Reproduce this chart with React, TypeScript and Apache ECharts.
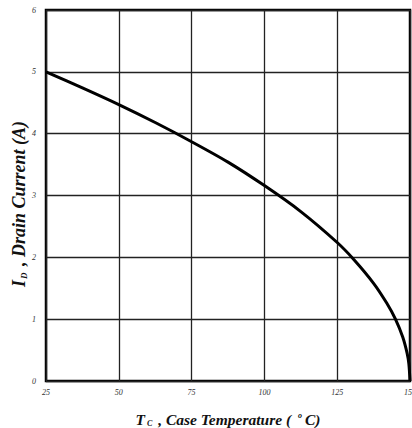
import React, { useEffect, useRef } from "react";
import * as echarts from "echarts";

const temperatures = [25, 37.5, 50, 62.5, 75, 87.5, 100, 112.5, 125, 131, 137.5, 142, 145, 147.5, 149, 149.6, 150];
const currents = [5, 4.74, 4.47, 4.18, 3.87, 3.54, 3.16, 2.74, 2.24, 1.95, 1.58, 1.26, 1.0, 0.71, 0.45, 0.28, 0];
const xTicks = [25, 50, 75, 100, 125, 150];
const yTicks = [0, 1, 2, 3, 4, 5, 6];

const FONT = "'Liberation Serif', 'DejaVu Serif', serif";

export default function App() {
  const ref = useRef<HTMLDivElement>(null);
  useEffect(() => {
    if (!ref.current) return;
    const chart = echarts.init(ref.current, undefined, { renderer: "svg" });
    chart.setOption({
      animation: false,
      backgroundColor: "#ffffff",
      grid: {
        left: 46, top: 10, right: 2, bottom: 47,
        show: true, borderColor: "#000", borderWidth: 2.5,
        outerBoundsMode: "none", containLabel: false,
      },
      graphic: [
        {
          type: "text",
          x: 19,
          y: 204,
          rotation: Math.PI / 2,
          style: {
            text: "{b|I}{sub|D}{b| , Drain Current (A)}",
            align: "center",
            verticalAlign: "middle",
            rich: {
              b: { fontFamily: FONT, fontStyle: "italic", fontWeight: "bold", fontSize: 18, fill: "#111" },
              sub: { fontFamily: FONT, fontStyle: "italic", fontWeight: "bold", fontSize: 9, fill: "#111", padding: [9, 2, 0, 1] },
            },
          },
        },
      ],
      xAxis: {
        type: "value",
        min: xTicks[0],
        max: xTicks[xTicks.length - 1],
        interval: 25,
        axisLine: { show: false },
        axisTick: { show: false },
        splitLine: { show: true, lineStyle: { color: "#222", width: 1.3 } },
        axisLabel: { fontFamily: FONT, fontStyle: "italic", fontSize: 8, color: "#333", margin: 7 },
        name: "{b|T}{sub| C}{b| , Case Temperature ( }{sup|o}{b|C)}",
        nameLocation: "middle",
        nameGap: 30,
        nameTextStyle: {
          rich: {
            b: { fontFamily: FONT, fontStyle: "italic", fontWeight: "bold", fontSize: 15.5, color: "#111" },
            sub: { fontFamily: FONT, fontStyle: "italic", fontWeight: "bold", fontSize: 8, color: "#111", padding: [8, 2, 0, 0] },
            sup: { fontFamily: FONT, fontStyle: "italic", fontWeight: "bold", fontSize: 8, color: "#111", padding: [0, 3, 8, 3] },
          },
        },
      },
      yAxis: {
        type: "value",
        min: yTicks[0],
        max: yTicks[yTicks.length - 1],
        interval: 1,
        axisLine: { show: false },
        axisTick: { show: false },
        splitLine: { show: true, lineStyle: { color: "#222", width: 1.3 } },
        axisLabel: { fontFamily: FONT, fontStyle: "italic", fontSize: 8, color: "#333", margin: 10 },
      },
      series: [
        {
          type: "line",
          data: temperatures.map((t, i) => [t, currents[i]]),
          smooth: 0.3,
          showSymbol: false,
          lineStyle: { color: "#000", width: 3 },
        },
      ],
    });
    return () => chart.dispose();
  }, []);
  return <div ref={ref} style={{ position: "absolute", left: 0, top: 0, width: 412, height: 428 }} />;
}
